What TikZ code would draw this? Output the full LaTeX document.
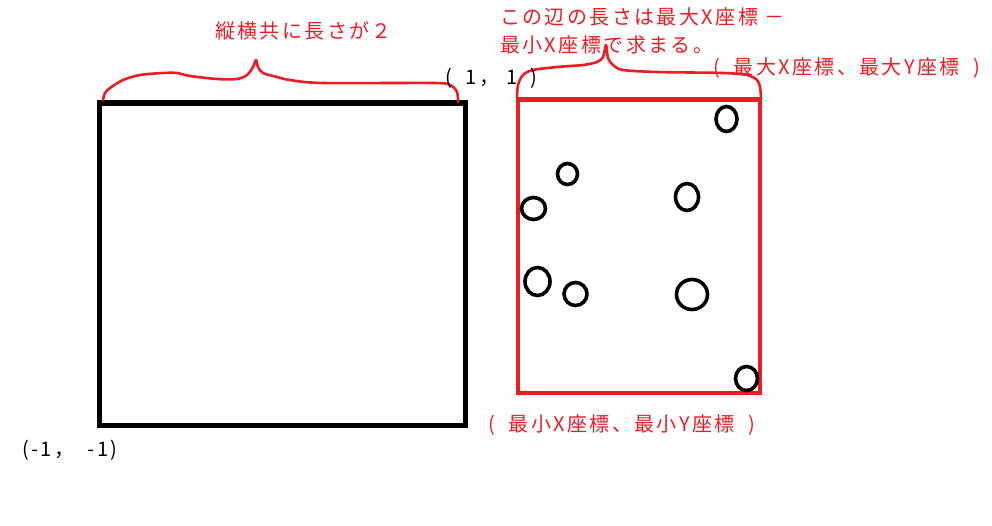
\documentclass[tikz,border=0pt]{standalone}
\usepackage{fontspec}
\newfontfamily\jpfont[LetterSpace=12]{Noto Sans CJK JP}
\definecolor{pred}{RGB}{237,28,36}
\begin{document}
\begin{tikzpicture}[x=1pt,y=-1pt,
  lbl/.style={inner sep=0pt,anchor=west,font=\jpfont\fontsize{20}{22}\selectfont},
  redlbl/.style={lbl,text=pred},
  brace/.style={draw=pred,line width=2.6pt,line cap=round,line join=round},
  dot/.style={draw=black,line width=3.6pt}]
\useasboundingbox (0,0) rectangle (992,525);
% black square
\draw[line width=5.5pt] (99.5,103) coordinate (sqA) rectangle (465.5,425.5) coordinate (sqB);
% red rectangle
\draw[pred,line width=4.5pt] (518,99.5) coordinate (rA) rectangle (760,393) coordinate (rB);
% dots
\draw[dot] (726.5,119) ellipse [x radius=10.5,y radius=12.5];
\draw[dot] (567.5,174) ellipse [x radius=10,y radius=10.5];
\draw[dot] (533.5,208.5) ellipse [x radius=12,y radius=11];
\draw[dot] (687,197) ellipse [x radius=11.5,y radius=13.5];
\draw[dot] (537.5,281.5) ellipse [x radius=12.5,y radius=14];
\draw[dot] (575.5,294) ellipse [x radius=11.5,y radius=11.5];
\draw[dot] (692,294.5) ellipse [x radius=15.5,y radius=15];
\draw[dot] (746.5,378.5) ellipse [x radius=11,y radius=12];
% braces
\draw[brace] plot[smooth,tension=0.5] coordinates {(103,100) (105,93) (110,88) (123,80) (140,75) (163,73) (177,73) (190,76) (217,79) (237,79) (247,75) (253,67) (256,60) (258,67) (263,73) (277,77) (290,80) (323,83) (433,83) (450,85) (457,92) (458,102)};
\draw[brace] plot[smooth,tension=0.5] coordinates {(517,98) (518,85) (523,75) (533,70) (557,67) (583,65) (597,62) (603,57) (606,45) (608,58) (613,65) (623,70) (657,72) (723,73) (747,75) (757,80) (760,87) (761,98)};
% texts
\node[redlbl] (t1) at (215,31) {縦横共に長さが２};
\node[redlbl] (t2) at (500,17) {この辺の長さは最大X座標 －};
\node[redlbl] (t3) at (500,45) {最小X座標で求まる。};
\node[redlbl] (t4) at (713,68) {(\ \ 最大X座標、最大Y座標\ \ )};
\node[redlbl] (t5) at (488,425) {(\ \ 最小X座標、最小Y座標\ \ )};
\node[lbl] (t6) at (445,78) {(\ \ 1， 1\ \ )};
\node[lbl] (t7) at (22,450) {(-1，\ \ -1)};
\end{tikzpicture}
\end{document}
